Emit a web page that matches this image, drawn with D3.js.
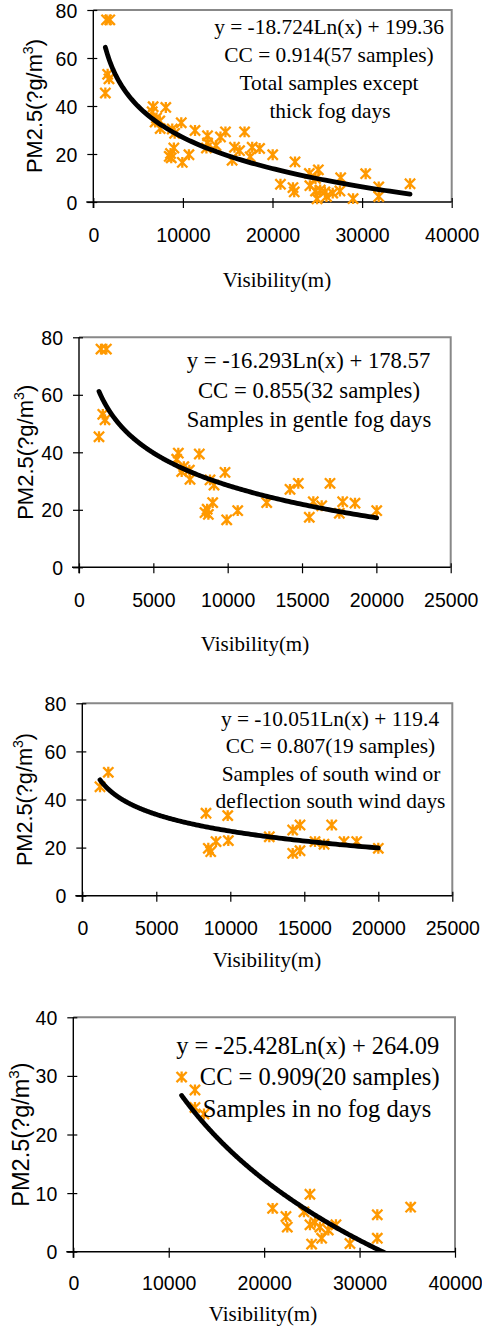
<!DOCTYPE html>
<html><head><meta charset="utf-8">
<script src="https://cdn.jsdelivr.net/npm/d3@7"></script>
<style>body{margin:0;background:#fff}svg{display:block}</style>
</head><body>
<svg id="c" width="482" height="1327"></svg>
<script>
// ---------- DATA ----------
// Samples in gentle fog days (panel 2)
const gentleX = [1345,1600,1750,1480,1840,6680,6570,6905,7050,7420,7466,8092,8811,9080,9820,8475,8620,8700,8990,9934,10674,12624,14192,14750,15490,15760,16324,16882,17508,17736,18563,20023];
const gentleY = [45.4,53.2,51.3,75.9,75.9,39.7,37.6,33.3,35.0,33.8,30.6,39.4,30.4,28.6,33.0,19.0,20.2,18.4,22.5,16.5,19.7,22.5,27.1,29.2,17.4,22.8,21.4,29.2,18.8,22.8,22.3,19.7];
// Samples in no fog days (panel 4)
const noFogX = [11352,12749,12749,13692,20888,22285,22425,24171,24800,24800,24975,25324,25848,26023,26721,27525,28992,31857,31857,35350];
const noFogY = [29.8,27.6,24.6,23.5,7.4,6.0,4.2,6.8,9.8,4.6,1.3,5.0,4.2,2.3,3.7,4.6,1.4,6.3,2.3,7.6];
// Other samples (only in the total panel)
const otherX = [22512,25117,24112,27610,30400];
const otherY = [16.7,13.4,11.9,10.1,11.8];
// South wind / deflection south wind days (panel 3)
const southX = [1196,1757,8358,8514,8676,9034,9825,9865,12636,14217,14217,14710,14710,15724,16332,16852,17683,18541,20001];
const southY = [45.3,51.3,34.3,19.7,18.3,22.5,33.3,22.9,24.5,27.3,17.6,29.4,18.7,22.5,21.4,29.4,22.5,22.5,19.7];

// Logarithmic trendlines y = a*Ln(x) + b
const fitTotal  = [-18.724, 199.36];
const fitGentle = [-16.293, 178.57];
const fitSouth  = [-10.051, 119.4];
const fitNoFog  = [-25.428, 264.09];

// Tick labels
const xTicks40k = [0,10000,20000,30000,40000];
const xTicks25k = [0,5000,10000,15000,20000,25000];
const yTicks80 = [0,20,40,60,80];
const yTicks40 = [0,10,20,30,40];

// Annotation texts
const annTotal  = ["y = -18.724Ln(x) + 199.36","CC = 0.914(57 samples)","Total samples except","thick fog days"];
const annGentle = ["y = -16.293Ln(x) + 178.57","CC = 0.855(32 samples)","Samples in gentle fog days"];
const annSouth  = ["y = -10.051Ln(x) + 119.4","CC = 0.807(19 samples)","Samples of south wind or","deflection south wind days"];
const annNoFog  = ["y = -25.428Ln(x) + 264.09","CC = 0.909(20 samples)","Samples in no fog days"];

const xTitle = "Visibility(m)";
const yTitleMain = "PM2.5(?g/m", yTitleSup = "3", yTitleEnd = ")";

// ---------- LAYOUT ----------
const panels = [
  {xs: gentleX.concat(noFogX, otherX), ys: gentleY.concat(noFogY, otherY), fit: fitTotal, ann: annTotal,
   left:93.3, right:451.7, top:10, bottom:202, xMax:40000, xTicks:xTicks40k, yMax:80, yTicks:yTicks80,
   annX:[329,329,329,330], annY:34.3, annStep:27.8, annFs:21.4, yTx:41.7, yTfs:21.8, xTx:277, xTy:287.3, tickOff:39.6},
  {xs: gentleX, ys: gentleY, fit: fitGentle, ann: annGentle,
   left:79, right:450.7, top:337.3, bottom:567.3, xMax:25000, xTicks:xTicks25k, yMax:80, yTicks:yTicks80,
   annX:[308.5,309,309], annY:368.3, annStep:29.2, annFs:22.7, yTx:33.3, yTfs:22, xTx:255, xTy:651, tickOff:39.4},
  {xs: southX, ys: southY, fit: fitSouth, ann: annSouth,
   left:82.3, right:452.3, top:703.3, bottom:895.7, xMax:25000, xTicks:xTicks25k, yMax:80, yTicks:yTicks80,
   annX:[330,330.5,331,330.5], annY:726, annStep:27.4, annFs:21.4, yTx:32.3, yTfs:21.7, xTx:267, xTy:967, tickOff:39.3},
  {xs: noFogX, ys: noFogY, fit: fitNoFog, ann: annNoFog,
   left:73.3, right:455, top:1017.3, bottom:1251.7, xMax:40000, xTicks:xTicks40k, yMax:40, yTicks:yTicks40,
   annX:[307.7,319.7,317], annY:1054, annStep:31.3, annFs:24.5, yTx:29.3, yTfs:23.5, xTx:263, xTy:1320.7, tickOff:38.3}
];

const svg = d3.select("#c");
const SANS = "'Liberation Sans', Arial, sans-serif";
const SERIF = "'Liberation Serif', 'Times New Roman', serif";
const ORANGE = "#FF9900";
const r = 4.3;
const starPath = `M${-r},${-r}L${r},${r}M${-r},${r}L${r},${-r}M0,${-r}L0,${r}`;

panels.forEach((p, i) => {
  const g = svg.append("g");
  const x = d3.scaleLinear().domain([0, p.xMax]).range([p.left, p.right]);
  const y = d3.scaleLinear().domain([0, p.yMax]).range([p.bottom, p.top]);

  // plot border (gray top & right)
  g.append("path")
    .attr("d", `M${p.left},${p.top}H${p.right}V${p.bottom}`)
    .attr("fill", "none").attr("stroke", "#888").attr("stroke-width", 2);

  // clip
  const cid = "clip" + i;
  svg.append("clipPath").attr("id", cid).append("rect")
    .attr("x", p.left).attr("y", p.top - 20).attr("width", p.right - p.left).attr("height", p.bottom - p.top + 20);

  // axes
  const xAxis = d3.axisBottom(x).tickValues(p.xTicks).tickSize(5).tickSizeOuter(0).tickFormat(d => d);
  const yAxis = d3.axisLeft(y).tickValues(p.yTicks).tickSize(5).tickSizeOuter(0).tickFormat(d => d);

  const gx = g.append("g").attr("transform", `translate(0,${p.bottom})`).call(xAxis);
  const gy = g.append("g").attr("transform", `translate(${p.left},0)`).call(yAxis);
  [gx, gy].forEach(a => {
    a.select(".domain").attr("stroke", "#000").attr("stroke-width", 1.4);
    a.selectAll(".tick line").attr("stroke", "#000").attr("stroke-width", 1.2);
    a.selectAll("text").attr("font-family", SANS).attr("font-size", 19.5).attr("fill", "#000");
  });
  // cross ticks (extend inward too)
  gx.selectAll(".tick line").attr("y1", -4).attr("y2", 6);
  gy.selectAll(".tick line").attr("x1", 4).attr("x2", -6);
  gx.select(".domain").attr("d", `M${p.left - 7},0H${p.right}`);
  gy.select(".domain").attr("d", `M0,${p.top}V${p.bottom + 6}`);
  gx.selectAll(".tick text").attr("y", p.tickOff).attr("dy", 0);
  gy.selectAll(".tick text").attr("x", -16).attr("dy", "0.36em");

  // markers
  g.append("g").selectAll("path").data(p.xs.map((v, k) => [v, p.ys[k]])).join("path")
    .attr("d", starPath)
    .attr("transform", d => `translate(${x(d[0])},${y(d[1])})`)
    .attr("fill", "none").attr("stroke", ORANGE).attr("stroke-width", 2.3).attr("stroke-linecap", "square");

  // trendline
  const x0 = d3.min(p.xs), x1 = d3.max(p.xs);
  const pts = d3.range(0, 201).map(k => {
    const xv = x0 * Math.pow(x1 / x0, k / 200);
    return [xv, p.fit[0] * Math.log(xv) + p.fit[1]];
  });
  g.append("path").attr("clip-path", `url(#${cid})`)
    .attr("d", d3.line().x(d => x(d[0])).y(d => y(d[1]))(pts))
    .attr("fill", "none").attr("stroke", "#000").attr("stroke-width", 4.8).attr("stroke-linecap", "round");

  // annotation
  p.ann.forEach((t, k) => {
    g.append("text").attr("x", p.annX[k]).attr("y", p.annY + k * p.annStep)
      .attr("text-anchor", "middle").attr("font-family", SERIF).attr("font-size", p.annFs)
      .attr("fill", "#000").text(t);
  });

  // x title
  g.append("text").attr("x", p.xTx).attr("y", p.xTy).attr("text-anchor", "middle")
    .attr("font-family", SERIF).attr("font-size", 21).attr("fill", "#000").text(xTitle);

  // y title
  const cy = (p.top + p.bottom) / 2;
  const yt = g.append("text").attr("transform", `translate(${p.yTx},${cy}) rotate(-90)`)
    .attr("text-anchor", "middle").attr("font-family", SANS).attr("font-size", p.yTfs).attr("fill", "#000");
  yt.append("tspan").text(yTitleMain);
  yt.append("tspan").attr("font-size", p.yTfs * 0.65).attr("dy", -p.yTfs * 0.42).text(yTitleSup);
  yt.append("tspan").attr("dy", p.yTfs * 0.42).text(yTitleEnd);
});
</script>
</body></html>
